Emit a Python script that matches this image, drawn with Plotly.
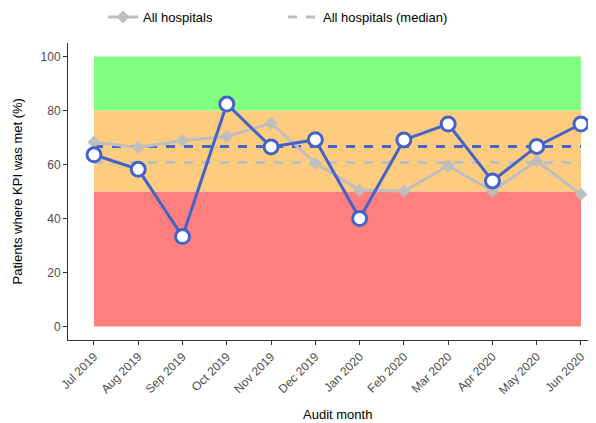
import plotly.graph_objects as go

months = ["Jul 2019", "Aug 2019", "Sep 2019", "Oct 2019", "Nov 2019", "Dec 2019",
          "Jan 2020", "Feb 2020", "Mar 2020", "Apr 2020", "May 2020", "Jun 2020"]
hospital = [63.6, 58.2, 33.3, 82.4, 66.5, 69.2, 40.0, 69.1, 75.0, 53.9, 66.7, 75.0]
all_hospitals = [68.3, 66.3, 68.9, 70.4, 75.3, 60.5, 50.5, 50.2, 59.5, 50.2, 61.3, 49.0]
hospital_median = 66.7
all_median = 60.7

bands = [(0, 50, "#FF7F7F"), (50, 80, "#FECC7F"), (80, 100, "#80FF80")]

fig = go.Figure()

for lo, hi, col in bands:
    fig.add_shape(type="rect", xref="x", yref="y", x0=months[0], x1=months[-1],
                  y0=lo, y1=hi, fillcolor=col, line=dict(width=0), layer="below")

fig.add_trace(go.Scatter(
    x=months, y=[all_median] * len(months), mode="lines",
    line=dict(color="#BEBEBE", width=3, dash="dash"),
    name="All hospitals (median)", showlegend=True))
fig.add_trace(go.Scatter(
    x=months, y=[hospital_median] * len(months), mode="lines",
    line=dict(color="#4463C7", width=3, dash="dash"),
    name="Hospital (median)", showlegend=False))
fig.add_trace(go.Scatter(
    x=months, y=all_hospitals, mode="lines+markers",
    line=dict(color="#BEBEBE", width=3),
    marker=dict(symbol="diamond", size=10, color="#BEBEBE"),
    name="All hospitals", showlegend=True))
fig.add_trace(go.Scatter(
    x=months, y=hospital, mode="lines+markers",
    line=dict(color="#4463C7", width=3),
    marker=dict(symbol="circle", size=14, color="white",
                line=dict(color="#4463C7", width=3)),
    name="Hospital", showlegend=False))

fig.add_annotation(text="Audit month", xref="paper", yref="paper", x=0.5095, y=-0.2525,
                   xanchor="center", yanchor="middle", showarrow=False,
                   font=dict(size=13, color="black"))
fig.add_annotation(text="Patients where KPI was met (%)", xref="paper", yref="paper",
                   x=-0.0947, y=0.5, xanchor="center", yanchor="middle", textangle=-90,
                   showarrow=False, font=dict(size=13, color="black"))

fig.update_layout(
    width=588, height=415,
    margin=dict(l=60, r=0, t=35, b=83, autoexpand=False),
    paper_bgcolor="white", plot_bgcolor="white",
    font=dict(family="Liberation Sans, Arial, sans-serif", size=12, color="#4D4D4D"),
    showlegend=True,
    legend=dict(orientation="h", xref="container", yref="container",
                x=0.1616, y=0.978, xanchor="left", yanchor="middle",
                traceorder="reversed", entrywidth=135, entrywidthmode="pixels",
                font=dict(size=13, color="black")),
    xaxis=dict(type="category", range=[-0.587, 11.339], showgrid=False, zeroline=False,
               automargin=False,
               showline=True, linecolor="#333333", linewidth=1,
               ticks="outside", ticklen=4, tickcolor="#333333",
               tickangle=-45, tickfont=dict(size=12, color="#4D4D4D")),
    yaxis=dict(range=[-5, 105], tickvals=[0, 20, 40, 60, 80, 100], showgrid=False,
               automargin=False,
               zeroline=False, showline=True, linecolor="#333333", linewidth=1,
               ticks="outside", ticklen=4, tickcolor="#333333",
               tickfont=dict(size=12, color="#4D4D4D")),
)

fig.write_html("out.html")
